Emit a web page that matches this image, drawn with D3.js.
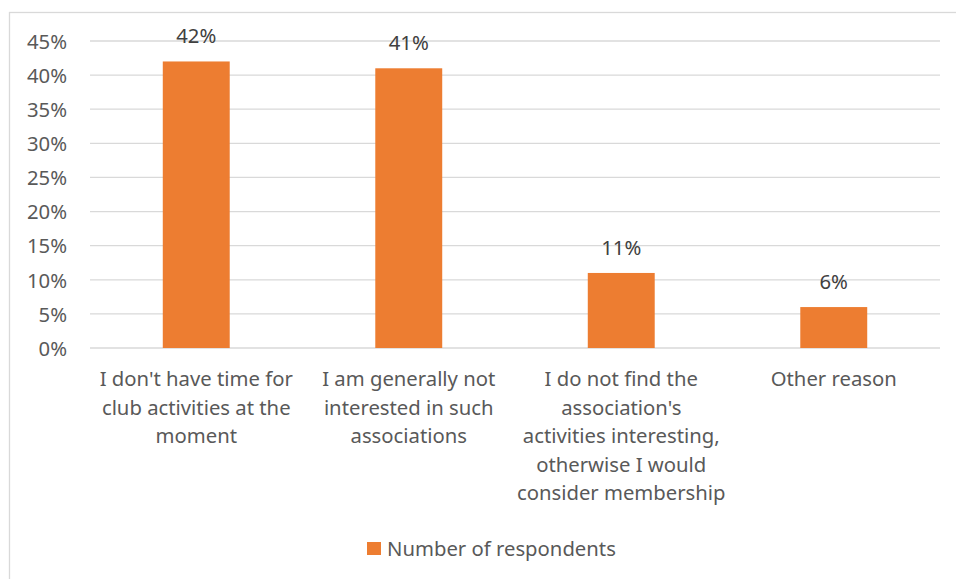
<!DOCTYPE html>
<html>
<head>
<meta charset="utf-8">
<script src="https://cdn.jsdelivr.net/npm/d3@7"></script>
<style>
  html, body { margin: 0; padding: 0; background: #fff; }
  svg { display: block; font-family: "Noto Sans", "Open Sans", sans-serif; }
</style>
</head>
<body>
<svg id="chart" width="956" height="579"></svg>
<script>
// Reasons for not joining, share of respondents
const categories = [
  ["I don't have time for", "club activities at the", "moment"],
  ["I am generally not", "interested in such", "associations"],
  ["I do not find the", "association's", "activities interesting,", "otherwise I would", "consider membership"],
  ["Other reason"]
];
const values = [42, 41, 11, 6];
const valueLabels = ["42%", "41%", "11%", "6%"];
const yTicks = [0, 5, 10, 15, 20, 25, 30, 35, 40, 45];
const seriesName = "Number of respondents";

const svg = d3.select("#chart");
const textColor = "#595959";
const barColor = "#ED7D31";
const gridColor = "#d9d9d9";
const fontSize = "20.3px";

// outer chart frame
svg.append("rect")
  .attr("x", 9.5).attr("y", 12.5)
  .attr("width", 960).attr("height", 600)
  .attr("fill", "none").attr("stroke", gridColor).attr("stroke-width", 1.3);

const plot = { left: 90, right: 940, top: 41, bottom: 348 };

const x = d3.scaleBand()
  .domain(d3.range(categories.length))
  .range([plot.left, plot.right])
  .paddingInner(0.685).paddingOuter(0.3425);

const y = d3.scaleLinear().domain([0, 45]).range([plot.bottom, plot.top]);

// horizontal gridlines
svg.append("g").selectAll("line").data(yTicks).join("line")
  .attr("x1", plot.left).attr("x2", plot.right)
  .attr("y1", d => y(d)).attr("y2", d => y(d))
  .attr("stroke", gridColor).attr("stroke-width", 1.3);

// y axis labels
const yAxis = d3.axisLeft(y).tickValues(yTicks).tickFormat(d => d + "%").tickSize(0).tickPadding(0);
const yg = svg.append("g").attr("transform", `translate(${plot.left - 23},0)`).call(yAxis);
yg.select(".domain").remove();
yg.selectAll("text").attr("fill", textColor).style("font-size", fontSize)
  .style("font-family", "\"Noto Sans\", sans-serif").attr("dy", "0.36em");

// bars
svg.append("g").selectAll("rect").data(values).join("rect")
  .attr("x", (d, i) => x(i))
  .attr("width", x.bandwidth())
  .attr("y", d => y(d))
  .attr("height", d => y(0) - y(d))
  .attr("fill", barColor);

// value labels
svg.append("g").selectAll("text").data(values).join("text")
  .attr("x", (d, i) => x(i) + x.bandwidth() / 2)
  .attr("y", d => y(d) - 18)
  .attr("text-anchor", "middle")
  .attr("fill", "#404040")
  .style("font-size", fontSize)
  .text((d, i) => valueLabels[i]);

// category labels
const cg = svg.append("g").selectAll("text").data(categories).join("text")
  .attr("text-anchor", "middle")
  .attr("fill", textColor)
  .style("font-size", fontSize);
cg.each(function(lines, i) {
  const t = d3.select(this);
  lines.forEach((line, j) => {
    t.append("tspan")
      .attr("x", x(i) + x.bandwidth() / 2)
      .attr("y", 386 + j * 28.6)
      .text(line);
  });
});

// legend
const legend = svg.append("g");
legend.append("rect")
  .attr("x", 367).attr("y", 542).attr("width", 14).attr("height", 13)
  .attr("fill", barColor);
legend.append("text")
  .attr("x", 387).attr("y", 556)
  .attr("fill", textColor)
  .style("font-size", fontSize)
  .text(seriesName);
</script>
</body>
</html>
